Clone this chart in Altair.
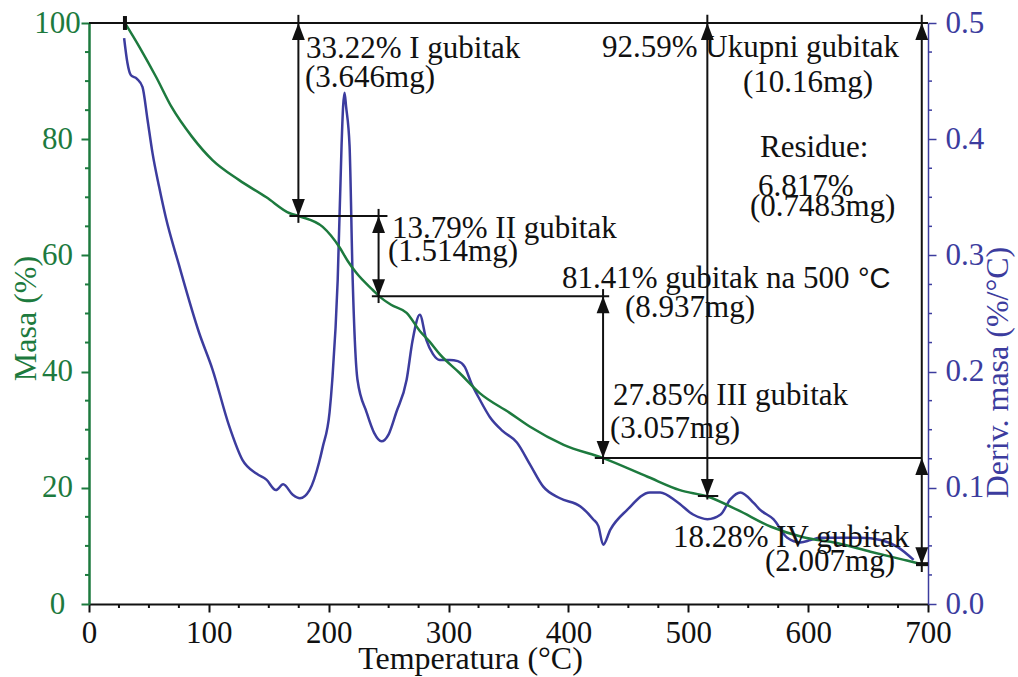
import altair as alt
import pandas as pd

# ---- TGA curve: temperature (°C) vs. remaining mass (%) ----
tga_temp = [30, 42, 56, 69, 86, 103, 125, 148, 167, 176, 195, 209, 216, 223, 237,
            242.5, 252, 265, 276, 284, 292.6, 309, 326, 351, 368, 396, 429, 466,
            493, 516, 541, 569, 596, 624, 652, 680, 694]
tga_mass = [100, 95.9, 90.7, 85.5, 80.4, 76.4, 73.0, 70.0, 67.3, 66.7, 64.9, 61.4,
            59.0, 57.0, 54.0, 52.9, 51.5, 50.1, 47.0, 45.2, 43.0, 39.8, 36.3, 32.9,
            30.5, 27.4, 25.1, 21.9, 19.6, 18.5, 16.2, 13.3, 11.5, 10.5, 9.0, 7.6, 6.9]

# ---- DTG curve: temperature (°C) vs. derivative of mass (%/°C) ----
dtg_temp = [29.3, 32, 35, 40, 44.6, 48.8, 53, 58.5, 64, 75, 92, 103, 117, 128, 140,
            148, 156, 162, 170, 176, 184, 192, 195, 200.7, 203, 207.5, 210.7, 212,
            213.2, 214.5, 217.4, 220, 224, 231.6, 238, 244, 250, 256.4, 265, 270,
            276, 281.5, 287, 292.6, 301, 307.7, 313.5, 319, 326, 334.4, 345, 357,
            368, 379, 393, 410, 420.6, 425, 429, 435, 449, 468, 476.6, 490.5, 504,
            516, 527, 535, 543.5, 554.5, 560, 571, 582.6, 593.6, 602, 610, 627, 644,
            660.5, 674.7, 688]
dtg_rate = [0.487, 0.466, 0.455, 0.452, 0.445, 0.417, 0.388, 0.359, 0.333, 0.292,
            0.233, 0.202, 0.153, 0.124, 0.112, 0.107, 0.098, 0.103, 0.094, 0.091,
            0.098, 0.122, 0.135, 0.165, 0.193, 0.279, 0.394, 0.428, 0.440, 0.428,
            0.394, 0.279, 0.193, 0.165, 0.147, 0.140, 0.146, 0.165, 0.193, 0.227,
            0.249, 0.227, 0.215, 0.210, 0.210, 0.209, 0.204, 0.190, 0.176, 0.161,
            0.149, 0.139, 0.120, 0.101, 0.091, 0.084, 0.073, 0.067, 0.051, 0.064,
            0.081, 0.096, 0.096, 0.088, 0.077, 0.073, 0.077, 0.090, 0.096, 0.087,
            0.081, 0.073, 0.057, 0.053, 0.055, 0.057, 0.057, 0.057, 0.055, 0.049,
            0.038]

# ---- mass-loss steps (%) ----
start_level = 100.0
level_1 = 66.78   # after 33.22 % (I)
level_2 = 52.99   # after 13.79 % (II)
level_3 = 25.14   # after 27.85 % (III)
level_4 = 6.86    # after 18.28 % (IV)
level_500 = 18.59  # after 81.41 % at 500 °C

# step guide lines: horizontal and vertical segments
seg_x1 = [0, 167.2, 236, 422, 508, 174.7, 241.6, 428.9, 515.9, 694.8]
seg_x2 = [700, 249, 434, 694.8, 525, 174.7, 241.6, 428.9, 515.9, 694.8]
seg_y1 = [start_level, level_1, level_2, level_3, level_500, 101.4, 68.0, 54.2, 101.4, 101.4]
seg_y2 = [start_level, level_1, level_2, level_3, level_500, 65.6, 51.8, 24.1, 18.0, 5.5]

# heavier end markers
mark_x1 = [30, 690]
mark_x2 = [30, 700]
mark_y1 = [101.2, level_4]
mark_y2 = [98.8, level_4]

# arrowheads: position of the tip and direction
arrow_temp = [174.7, 174.7, 241.6, 241.6, 428.9, 428.9, 515.9, 515.9, 694.8, 694.8, 694.8]
arrow_mass = [start_level, level_1, level_1, level_2, level_2, level_3,
              start_level, level_500, start_level, level_3, level_4]
arrow_dir = ["up", "down", "up", "down", "up", "down", "up", "down", "up", "up", "down"]

# annotation texts (left edge, baseline)
note_text = ["33.22% I gubitak", "(3.646mg)",
             "13.79% II gubitak", "(1.514mg)",
             "81.41% gubitak na 500", "(8.937mg)",
             "92.59% Ukupni gubitak", "(10.16mg)",
             "Residue:", "6.817%", "(0.7483mg)",
             "27.85% III gubitak", "(3.057mg)",
             "18.28% IV gubitak", "(2.007mg)"]
note_temp = [181.0, 180.2, 252.8, 249.5, 394.6, 447.2, 428.0, 545.6,
             559.8, 558.1, 551.4, 437.2, 434.7, 487.2, 564.0]
note_mass = [93.9, 88.9, 63.0, 59.0, 54.4, 49.4, 94.1, 88.1,
             76.9, 70.2, 66.7, 34.2, 28.6, 9.8, 5.7]
unit_text = ["°C"]
unit_temp = [641.5]
unit_mass = [54.4]

# axis ticks
x_major = [0, 100, 200, 300, 400, 500, 600, 700]
x_minor = [25, 50, 75, 125, 150, 175, 225, 250, 275, 325, 350, 375, 425, 450, 475,
           525, 550, 575, 625, 650, 675]
mass_major = [0, 20, 40, 60, 80, 100]
mass_minor = [5, 10, 15, 25, 30, 35, 45, 50, 55, 65, 70, 75, 85, 90, 95]
rate_major = [0.0, 0.1, 0.2, 0.3, 0.4, 0.5]
rate_minor = [0.025, 0.05, 0.075, 0.125, 0.15, 0.175, 0.225, 0.25, 0.275,
              0.325, 0.35, 0.375, 0.425, 0.45, 0.475]

GREEN = "#1d7a3e"
BLUE = "#3c3c9e"
BLACK = "#111111"
SERIF = "Liberation Serif"
W, H = 839, 581

UP_PATH = "M0,0L0.38,1L-0.38,1Z"
DOWN_PATH = "M0,0L0.38,-1L-0.38,-1Z"

x_scale = alt.Scale(domain=[0, 700], nice=False, zero=False)
mass_scale = alt.Scale(domain=[0, 100], nice=False)
rate_scale = alt.Scale(domain=[0, 0.5], nice=False)

x_axis = alt.Axis(
    values=x_major, orient="bottom", grid=False, labelFlush=False, labelOverlap=False,
    domainColor=BLACK, domainWidth=2, tickColor=BLACK, tickWidth=2, tickSize=8,
    labelFont=SERIF, labelFontSize=31, labelColor=BLACK, labelPadding=30,
    labelBaseline="alphabetic",
    title="Temperatura (°C)", titleFont=SERIF, titleFontSize=32,
    titleFontWeight="normal", titleColor=BLACK, titleX=381, titleY=64,
    titleAlign="center", titleBaseline="alphabetic",
)
mass_axis = alt.Axis(
    values=mass_major, orient="left", grid=False, labelFlush=False, labelOverlap=False,
    domainColor=GREEN, domainWidth=2.5, tickColor=GREEN, tickWidth=2, tickSize=8,
    labelFont=SERIF, labelFontSize=31, labelColor=GREEN, labelAlign="center",
    labelBaseline="middle", labelPadding=24,
    title="Masa (%)", titleFont=SERIF, titleFontSize=32, titleFontWeight="normal",
    titleColor=GREEN, titleAngle=270, titleX=-54, titleY=295,
    titleAlign="center", titleBaseline="alphabetic",
)
rate_axis = alt.Axis(
    values=rate_major, format=".1f", orient="right", grid=False, labelFlush=False,
    labelOverlap=False, domainColor=BLUE, domainWidth=1.5, tickColor=BLUE,
    tickWidth=1.5, tickSize=8, labelFont=SERIF, labelFontSize=31, labelColor=BLUE,
    labelAlign="left", labelBaseline="middle", labelPadding=9,
    title="Deriv. masa (%/°C)", titleFont=SERIF, titleFontSize=32,
    titleFontWeight="normal", titleColor=BLUE, titleAngle=270, titleX=79, titleY=349,
    titleAlign="center", titleBaseline="alphabetic",
)

tga = pd.DataFrame({"temp": tga_temp, "mass": tga_mass})
dtg = pd.DataFrame({"temp": dtg_temp, "rate": dtg_rate})
segs = pd.DataFrame({"x1": seg_x1, "x2": seg_x2, "y1": seg_y1, "y2": seg_y2})
marks = pd.DataFrame({"x1": mark_x1, "x2": mark_x2, "y1": mark_y1, "y2": mark_y2})
arrows = pd.DataFrame({"temp": arrow_temp, "mass": arrow_mass, "dir": arrow_dir})
notes = pd.DataFrame({"temp": note_temp, "mass": note_mass, "text": note_text})
units = pd.DataFrame({"temp": unit_temp, "mass": unit_mass, "text": unit_text})

# derivative curve on the right-hand scale
dtg_line = alt.Chart(dtg).mark_line(color=BLUE, strokeWidth=2.5, interpolate="monotone").encode(
    x=alt.X("temp:Q", scale=x_scale, axis=None),
    y=alt.Y("rate:Q", scale=rate_scale, axis=rate_axis),
)
rate_minor_ticks = alt.Chart(pd.DataFrame({"rate": rate_minor})).mark_rule(
    color=BLUE, strokeWidth=1.5).encode(
    y=alt.Y("rate:Q", scale=rate_scale, axis=None),
    x=alt.value(W), x2=alt.value(W + 4),
)

# mass curve and step annotations on the left-hand scale
tga_line = alt.Chart(tga).mark_line(color=GREEN, strokeWidth=2.5, interpolate="monotone").encode(
    x=alt.X("temp:Q", scale=x_scale, axis=x_axis),
    y=alt.Y("mass:Q", scale=mass_scale, axis=mass_axis),
)
mass_minor_ticks = alt.Chart(pd.DataFrame({"mass": mass_minor})).mark_rule(
    color=GREEN, strokeWidth=2).encode(
    y=alt.Y("mass:Q", scale=mass_scale, axis=None),
    x=alt.value(0), x2=alt.value(-4),
)
x_minor_ticks = alt.Chart(pd.DataFrame({"temp": x_minor})).mark_rule(
    color=BLACK, strokeWidth=2).encode(
    x=alt.X("temp:Q", scale=x_scale, axis=None),
    y=alt.value(H), y2=alt.value(H + 4),
)
guide_lines = alt.Chart(segs).mark_rule(color=BLACK, strokeWidth=2).encode(
    x=alt.X("x1:Q", scale=x_scale, axis=None), x2="x2:Q",
    y=alt.Y("y1:Q", scale=mass_scale, axis=None), y2="y2:Q",
)
end_marks = alt.Chart(marks).mark_rule(color=BLACK, strokeWidth=4).encode(
    x=alt.X("x1:Q", scale=x_scale, axis=None), x2="x2:Q",
    y=alt.Y("y1:Q", scale=mass_scale, axis=None), y2="y2:Q",
)
arrow_heads = alt.Chart(arrows).mark_point(
    filled=True, color=BLACK, opacity=1, strokeWidth=0, size=1156).encode(
    x=alt.X("temp:Q", scale=x_scale, axis=None),
    y=alt.Y("mass:Q", scale=mass_scale, axis=None),
    shape=alt.Shape("dir:N", scale=alt.Scale(domain=["up", "down"],
                                              range=[UP_PATH, DOWN_PATH]), legend=None),
)
note_labels = alt.Chart(notes).mark_text(
    align="left", baseline="alphabetic", font=SERIF, fontSize=31, color=BLACK).encode(
    x=alt.X("temp:Q", scale=x_scale, axis=None),
    y=alt.Y("mass:Q", scale=mass_scale, axis=None),
    text="text:N",
)
unit_labels = alt.Chart(units).mark_text(
    align="left", baseline="alphabetic", font="Liberation Sans", fontSize=29,
    color=BLACK).encode(
    x=alt.X("temp:Q", scale=x_scale, axis=None),
    y=alt.Y("mass:Q", scale=mass_scale, axis=None),
    text="text:N",
)

# every layer carries an explicit y domain, so independent y scales stay aligned;
# the x scale is shared and only the TGA layer draws the temperature axis
chart = alt.layer(
    dtg_line, rate_minor_ticks, tga_line, mass_minor_ticks, x_minor_ticks,
    guide_lines, end_marks, arrow_heads, note_labels, unit_labels,
).resolve_scale(y="independent").resolve_axis(x="independent").properties(
    width=W, height=H,
    autosize=alt.AutoSizeParams(type="none"),
    padding={"left": 89, "top": 23, "right": 90, "bottom": 73},
    background="white",
).configure_view(stroke=None)

chart.save("out.html", embed_options={"renderer": "svg", "actions": False})
